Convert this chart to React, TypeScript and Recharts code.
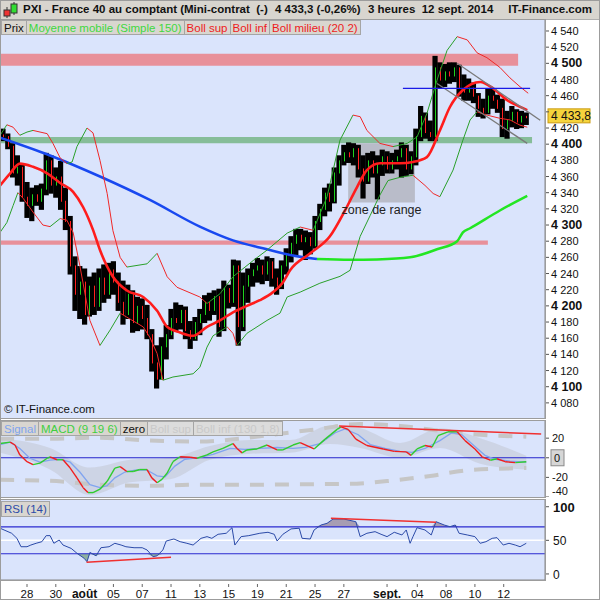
import { ComposedChart, Bar, Line, Area, XAxis, YAxis, CartesianGrid, ReferenceArea, ReferenceLine } from 'recharts'

const FONT = '"Liberation Sans", Arial, sans-serif'
const PLOT_BG = '#dae4fc'
const X_DOMAIN: [number, number] = [0.375, 113.9]

// 3-hour bars, one index per bar
const opens = [
  4406, 4412, 4410, 4398, 4365, 4372, 4335, 4325, 4338, 4330, 4345, 4380, 4350, 4360, 4330, 4305, 4250, 4215, 4230, 4190,
  4225, 4200, 4235, 4215, 4245, 4230, 4205, 4190, 4215, 4180, 4200, 4185, 4165, 4130, 4110, 4150, 4165, 4185, 4180, 4195,
  4170, 4160, 4180, 4190, 4205, 4195, 4212, 4175, 4222, 4205, 4250, 4175, 4225, 4238, 4245, 4250, 4240, 4255, 4235, 4225,
  4250, 4265, 4278, 4288, 4280, 4285, 4275, 4305, 4320, 4340, 4330, 4365, 4380, 4390, 4385, 4395, 4370, 4355, 4380, 4365,
  4375, 4385, 4370, 4380, 4385, 4395, 4370, 4385, 4410, 4435, 4415, 4410, 4495, 4480, 4490, 4485, 4495, 4470, 4465, 4470,
  4460, 4445, 4440, 4460, 4455, 4445, 4420, 4430, 4440, 4428, 4435,
]
const highs = [
  4416, 4418, 4412, 4400, 4385, 4375, 4352, 4345, 4348, 4350, 4388, 4385, 4370, 4378, 4345, 4310, 4260, 4248, 4245, 4235,
  4240, 4245, 4250, 4252, 4254, 4240, 4230, 4225, 4218, 4210, 4208, 4200, 4170, 4150, 4160, 4175, 4195, 4203, 4200, 4198,
  4180, 4185, 4195, 4212, 4215, 4218, 4220, 4230, 4225, 4256, 4255, 4240, 4245, 4252, 4258, 4256, 4260, 4258, 4245, 4255,
  4270, 4285, 4294, 4294, 4292, 4290, 4310, 4325, 4345, 4350, 4370, 4385, 4398, 4401, 4400, 4398, 4385, 4388, 4390, 4385,
  4392, 4390, 4388, 4392, 4401, 4398, 4390, 4418, 4446, 4438, 4428, 4508, 4500, 4498, 4500, 4500, 4497, 4485, 4480, 4475,
  4462, 4455, 4467, 4468, 4460, 4455, 4440, 4446, 4442, 4440, 4438,
]
const lows = [
  4404, 4405, 4395, 4360, 4350, 4330, 4310, 4306, 4325, 4320, 4338, 4340, 4335, 4320, 4295, 4240, 4195, 4185, 4178, 4188,
  4190, 4195, 4205, 4210, 4215, 4195, 4178, 4185, 4168, 4170, 4172, 4160, 4120, 4099, 4110, 4135, 4160, 4170, 4172, 4160,
  4148, 4158, 4165, 4180, 4183, 4190, 4163, 4170, 4198, 4200, 4152, 4170, 4205, 4225, 4230, 4228, 4232, 4225, 4215, 4222,
  4240, 4255, 4262, 4270, 4258, 4265, 4272, 4295, 4312, 4318, 4328, 4350, 4375, 4378, 4375, 4360, 4334, 4352, 4360, 4333,
  4362, 4365, 4365, 4370, 4360, 4362, 4364, 4375, 4405, 4408, 4405, 4405, 4470, 4472, 4476, 4478, 4460, 4455, 4455, 4452,
  4435, 4433, 4438, 4445, 4440, 4410, 4408, 4422, 4420, 4421, 4425,
]
const closes = [
  4412, 4410, 4398, 4365, 4372, 4335, 4325, 4338, 4330, 4345, 4380, 4350, 4360, 4330, 4305, 4250, 4215, 4230, 4190, 4225,
  4200, 4235, 4215, 4245, 4230, 4205, 4190, 4215, 4180, 4200, 4185, 4165, 4130, 4110, 4150, 4165, 4185, 4180, 4195, 4170,
  4160, 4180, 4190, 4205, 4195, 4212, 4175, 4222, 4205, 4250, 4175, 4225, 4238, 4245, 4250, 4240, 4255, 4235, 4225, 4250,
  4265, 4278, 4288, 4280, 4285, 4275, 4305, 4320, 4340, 4330, 4365, 4380, 4390, 4385, 4395, 4370, 4355, 4380, 4365, 4375,
  4385, 4370, 4380, 4385, 4395, 4370, 4385, 4410, 4435, 4415, 4410, 4495, 4480, 4490, 4485, 4495, 4470, 4465, 4470, 4460,
  4445, 4440, 4460, 4455, 4445, 4420, 4430, 4440, 4428, 4435, 4433.3,
]
const lastPrice = 4433.8

// overlays as [bar index, value]
const ma150Falling = [[0.4, 4408], [10.8, 4386], [21.2, 4360], [31.6, 4331], [42, 4298], [48.9, 4281], [56, 4270], [60.8, 4263], [66.4, 4258]]
const ma150Rising = [[66.4, 4258], [73.3, 4257], [78.9, 4257.5], [85.8, 4260], [91.4, 4270], [95.6, 4280], [96.8, 4291], [98.3, 4296], [104.5, 4318], [110.2, 4336]]
const bollMid = [
  [0.4, 4349], [2.5, 4364], [4.5, 4376], [7.25, 4372], [10.2, 4364], [12.9, 4352], [15.6, 4341], [17.7, 4322], [19.75, 4294],
  [21.2, 4269], [23.9, 4236], [26.8, 4219], [30.2, 4211], [33.1, 4194], [35.2, 4174], [37.9, 4167], [40.6, 4163], [43.5, 4174],
  [46.2, 4182], [48.9, 4192], [51.8, 4200], [54.5, 4207], [57.25, 4217], [59.3, 4229], [60.8, 4244], [65, 4265], [69.1, 4286],
  [72.25, 4318], [74.75, 4347], [76.8, 4368], [79.5, 4376.5], [83.7, 4376.5], [86.4, 4378], [89.3, 4384], [92, 4417], [94.1, 4446],
  [96.8, 4467], [100.4, 4477], [103.1, 4469], [106, 4454.5], [108.1, 4448], [110.2, 4442],
]
const bollSup = [
  [0.4, 4411], [1.8, 4424], [3.1, 4421], [4.5, 4411], [6, 4415], [7.25, 4417], [10.2, 4413], [11.4, 4401], [12.9, 4383],
  [14.3, 4376], [15.4, 4378], [16.4, 4397], [18.5, 4420], [19.75, 4414], [21.2, 4380], [22.7, 4339], [23.9, 4293], [25.4, 4260],
  [26.8, 4248], [31, 4252], [33.1, 4265], [35.2, 4236], [37.25, 4223], [42, 4211], [43.5, 4203], [46.2, 4215], [48.9, 4236],
  [53.1, 4256], [56, 4269], [60.2, 4290], [62.9, 4297.5], [65.6, 4293.5], [68.5, 4335], [71.2, 4405], [73.9, 4436], [75.4, 4434],
  [76.8, 4417], [79.5, 4401], [82.25, 4397], [85.2, 4401], [87.25, 4409], [89.3, 4438], [91.4, 4479], [93.5, 4516], [95.6, 4533],
  [97.7, 4529], [99.75, 4513], [101.8, 4507], [104.5, 4495], [106.6, 4482], [108.7, 4471], [110.4, 4463],
]
const bollInf = [
  [0.4, 4291], [1.8, 4303], [3.1, 4324], [4.1, 4340], [5.2, 4333], [7.25, 4316], [9.3, 4300], [10.8, 4298], [12.9, 4308],
  [14.3, 4306], [15.6, 4291], [17, 4250], [19.1, 4182], [21.2, 4151], [23.3, 4170], [25.4, 4191], [26.8, 4186], [30.2, 4174],
  [31.6, 4161], [33.1, 4141], [34.3, 4108], [36.4, 4112], [40.6, 4116], [42, 4124], [43.5, 4149], [44.75, 4163], [47.7, 4174],
  [48.9, 4166], [49.75, 4151], [51.8, 4166], [56, 4182], [58.7, 4191], [60.2, 4211], [62.9, 4217], [67, 4228], [71.2, 4236.5],
  [73.3, 4244], [75.4, 4286], [77.5, 4312], [79.5, 4337], [81.2, 4355], [83.7, 4359], [86.4, 4361.6], [88.9, 4349], [90.6, 4339],
  [92, 4335], [94.75, 4368], [96.8, 4405], [98.3, 4430], [99.75, 4440], [101.8, 4436], [104.5, 4432], [106.6, 4430],
  [108.7, 4423.5], [110.2, 4421],
]
const channelTop = [[95.6, 4500], [112.9, 4429.7]]
const channelBottom = [[91.4, 4475], [110.2, 4401]]
const resistanceLine = [84.3, 110.8, 4469]

const macd = [
  [0.4, 14.5], [2.5, 16], [3.5, 13], [4.5, 3], [6, -4], [7.25, -7], [8.7, -5.5], [10.2, -0.5], [10.8, 1], [12.25, -2], [13.5, -2],
  [15, -10.5], [16.4, -20.5], [17.7, -30.5], [18.7, -35.5], [19.75, -35.5], [21.2, -32], [22.7, -24], [24.3, -10.5], [25.4, -9],
  [26.8, -14], [28.1, -14], [29.5, -12], [31, -12], [32, -20.5], [33.1, -25.5], [34.1, -22], [35.2, -15.5], [36.4, -4], [37.9, 1],
  [40, 0.5], [41.4, -0.5], [43.5, 3], [44.75, 6], [46.8, 9.5], [48.9, 14.5], [49.75, 9.5], [50.8, 5], [51.8, 8], [53.9, 9], [56, 13],
  [58.1, 8], [59.3, 8], [61.4, 13], [62.9, 15.5], [65.8, 9], [68.1, 19], [70.6, 29], [71.4, 31.5], [72.9, 29], [74.5, 19],
  [76.8, 12.5], [80.2, 9], [82.5, 6.5], [85, 6], [86, 2.5], [87.25, 9], [88.9, 12.5], [90.4, 11], [91.6, 22.5], [93.7, 26.5],
  [95.6, 26.5], [97.25, 17.5], [99.3, 9], [100.8, 1], [102.5, -2.5], [103.9, -1], [105.6, -4], [107.7, -5], [110, -4],
]
const signal = [
  [0.4, 13.5], [2.5, 16], [4.5, 9.5], [6.6, -0.5], [8.7, -4.5], [10.8, -2.5], [12.9, -1.5], [15, -4.5], [17, -14.5], [19.1, -27.5],
  [21.2, -30.5], [22.7, -28.5], [24.3, -20.5], [26.4, -14.5], [28.5, -12.5], [31, -12.5], [33.1, -18.5], [34.75, -19.5],
  [36.8, -8.5], [38.9, -1.5], [42, 0.5], [44.75, 3.5], [48.3, 9.5], [51.4, 8.5], [54.5, 9.5], [58.1, 10.5], [61.4, 9.5], [64, 10.5],
  [67, 14.5], [70.2, 25.5], [72.25, 29.5], [75, 23.5], [77.5, 13.5], [80.6, 9.5], [83.7, 6.5], [86.2, 5.5], [88.9, 9.5], [92, 17.5],
  [94.5, 25.5], [96.6, 23.5], [99.3, 11.5], [101.4, 2.5], [103.5, -1.5], [106.6, -3.5], [110, -4.5],
]
const macdBollSup = [[0.4, 19.5], [10.8, 19.5], [21.2, 20.5], [31.6, 17.5], [42, 16.5], [50.4, 19.5], [58.7, 24.5], [67, 29.5], [75.4, 34.5], [83.7, 32.5], [92, 27.5], [100.4, 23.5], [110, 21.5]]
const macdBollInf = [[0.4, -22.5], [10.8, -23.5], [21.2, -27.5], [31.6, -28.5], [42, -27.5], [52.5, -27.5], [62.9, -27], [73.3, -26.5], [81.6, -23.5], [90, -18.5], [98.3, -12.5], [110, -10.5]]
const macdShadeLo = [5, -12, -38, -25, -22, -2, 4, 5, 14, 10, 0, 10, -6, -12]
const macdShadeHi = [20, 10, -10, -2, 0, 12, 18, 18, 33, 30, 15, 30, 20, 2]
const macdShadeX = [0.4, 10.8, 19.1, 27.5, 35.8, 44.1, 52.5, 60.8, 69.1, 75.4, 83.7, 92, 100.4, 110]
const macdTrend = [[71, 32.5], [113.1, 24.2]]

const rsi = [
  [0.4, 68], [2.8, 60.5], [3.9, 53], [4.75, 40.5], [6, 40.5], [6.8, 43], [7.9, 45.6], [9.1, 48], [10, 57], [10.8, 57], [11.6, 45.6],
  [12.7, 50.5], [13.5, 43], [15.2, 38], [16.4, 30.8], [17.9, 23.3], [18.5, 18.3], [19.1, 32], [20.4, 27], [21.4, 39], [23.1, 40.5],
  [24.3, 45.6], [25.6, 43], [26.6, 40.5], [28.3, 39], [30, 39], [31, 35.7], [32.25, 25.7], [33.1, 27], [34.3, 35.7], [35, 49],
  [36.6, 52], [37.9, 48], [39.3, 45.6], [40.6, 43], [42.25, 53], [43.5, 55.5], [44.5, 53], [45.8, 59], [47.5, 60.5], [48.7, 68.8],
  [49.3, 43], [50.6, 55.5], [52.2, 57], [54.5, 60.5], [56.2, 62], [57.5, 59], [58.1, 49], [59.3, 59], [61, 67], [62.7, 68],
  [63.3, 53], [65, 52], [65.8, 65.4], [67.25, 72.8], [68.5, 75.3], [69.75, 81.7], [72, 81.7], [74.5, 77.7], [75.4, 55.5],
  [76.8, 60.5], [78.5, 62.9], [79.75, 59], [81, 55.5], [82.5, 62], [84.1, 58], [85, 65.4], [85.8, 45.6], [86.4, 55.5],
  [87.25, 68.8], [88.9, 65.4], [90.2, 58], [91.2, 77.7], [92.9, 72.8], [94.1, 70.3], [95.2, 72.8], [96, 60.5], [97.7, 58],
  [99.3, 55.5], [100.4, 45.6], [101.6, 48], [102.9, 53], [103.9, 54], [105.2, 43], [106.4, 45.6], [107.7, 43], [108.7, 40.5],
  [110, 45.6],
]
const rsiTrendLow = [[18.4, 17.4], [36, 24.8]]
const rsiTrendHigh = [[69.3, 82.7], [91.2, 76.8]]

const priceTicks = [4080, 4100, 4120, 4140, 4160, 4180, 4200, 4220, 4240, 4260, 4280, 4300, 4320, 4340, 4360, 4380, 4400, 4420, 4440, 4460, 4480, 4500, 4520, 4540]
const macdTicks = [20, 0, -20, -40]
const rsiTicks = [0, 50, 100]
const dayTicks = [6, 12, 18, 24, 30, 36, 42, 48, 54, 60, 66, 72, 81, 87.3, 93.3, 99.3, 105.3]
const dayLabels = ['28', '30', 'août', '05', '07', '11', '13', '15', '19', '21', '25', '27', 'sept.', '04', '08', '10', '12']

const candles = closes.map((c, i) => ({ x: i, range: [lows[i], highs[i]], open: opens[i], close: c, high: highs[i], low: lows[i] }))
const pts = (arr: number[][]) => arr.map(([x, v]) => ({ x, v }))
const shade = macdShadeX.map((x, i) => ({ x, band: [macdShadeLo[i], macdShadeHi[i]] }))
const rsiHigh = rsi.map(([x, v]) => ({ x, band: [70, Math.max(v, 70)] }))
const rsiLow = rsi.map(([x, v]) => ({ x, band: [Math.min(v, 30), 30] }))

const fmtPrice = (v: number) => `${Math.floor(v / 1000)} ${String(Math.round(v % 1000)).padStart(3, '0')}`

function Candle(props: any) {
  const { x, y, width, height, payload } = props
  if (x == null || y == null || !payload) return null
  const top = Math.min(y, y + height)
  const h = Math.max(Math.abs(height), 1)
  const k = h / (payload.high - payload.low || 1)
  const yo = top + (payload.high - payload.open) * k
  const yc = top + (payload.high - payload.close) * k
  const mid = x + width / 2
  const cx = Math.round(mid) + 0.5
  return (
    <g>
      <rect x={mid - 2.6} y={top - 1} width={5.2} height={h + 2} fill="#000" />
      <line x1={cx} x2={cx} y1={Math.min(yo, yc)} y2={Math.max(yo, yc) + 1} stroke={payload.close >= payload.open ? '#1fd21f' : '#ff2020'} strokeWidth={1} />
    </g>
  )
}

// colour each piece by direction, like the source chart does
function segments(id: string, arr: number[][], up: string, down: string, width: number) {
  return arr.slice(1).map((p, k) => (
    <ReferenceLine
      key={`${id}${k}`}
      segment={[{ x: arr[k][0], y: arr[k][1] }, { x: p[0], y: p[1] }]}
      stroke={p[1] >= arr[k][1] ? up : down}
      strokeWidth={width}
      ifOverflow="hidden"
    />
  ))
}

function PriceTick(props: any) {
  const { x, y, payload } = props
  const major = payload.value % 100 === 0
  // the last-price box sits over the nearest label
  if (Math.abs(payload.value - lastPrice) < 10) return <line x1={x} x2={x + 4} y1={y} y2={y} stroke="#555" />
  return (
    <g>
      <line x1={x} x2={x + 4} y1={y} y2={y} stroke="#555" />
      <text x={x + 6} y={y} dy={4} fontFamily={FONT} fontSize={major ? 12.5 : 11} fontWeight={major ? 'bold' : 'normal'} fill="#111">
        {fmtPrice(payload.value)}
      </text>
    </g>
  )
}

function MacdTick(props: any) {
  const { x, y, payload } = props
  const ty = Math.min(y, 70)
  return (
    <g>
      <line x1={x} x2={x + 4} y1={y} y2={y} stroke="#555" />
      {payload.value === 0 && <rect x={x + 6} y={ty - 8} width={13} height={16} fill="#d6d6d6" stroke="#8a8a8a" />}
      <text x={payload.value === 0 ? x + 9 : x + 7} y={ty} dy={4} fontFamily={FONT} fontSize={11} fill="#111">
        {payload.value}
      </text>
    </g>
  )
}

function RsiTick(props: any) {
  const { x, y, payload } = props
  return (
    <g>
      <line x1={x} x2={x + 4} y1={y} y2={y} stroke="#555" />
      <text x={x + 8} y={y} dy={5} fontFamily={FONT} fontSize={payload.value === 100 ? 13 : 12} fontWeight={payload.value === 100 ? 'bold' : 'normal'} fill="#111">
        {payload.value}
      </text>
    </g>
  )
}

function DayTick(props: any) {
  const { x, y, payload } = props
  const label = dayLabels[dayTicks.indexOf(payload.value)] ?? ''
  const month = label.length > 2
  return (
    <g>
      <line x1={x} x2={x} y1={y - 4} y2={y - 1} stroke="#666" />
      <text x={x} y={y + 10} textAnchor="middle" fontFamily={FONT} fontSize={month ? 12 : 11.5} fontWeight={month ? 'bold' : 'normal'} fill="#111">
        {label}
      </text>
    </g>
  )
}

function PriceBox(props: any) {
  const { viewBox } = props
  if (!viewBox) return null
  const x = viewBox.x + viewBox.width + 3
  return (
    <g>
      <rect x={x} y={viewBox.y - 8} width={42} height={14} fill="#f6d43c" stroke="#c99a10" />
      <text x={x + 3} y={viewBox.y + 3.5} fontFamily={FONT} fontSize={12} fill="#111">
        {lastPrice.toFixed(1).replace('.', ',').replace(/^(\d)(\d{3})/, '$1 $2')}
      </text>
    </g>
  )
}

const boxStyle = (color: string) => ({
  display: 'inline-block',
  height: 15,
  lineHeight: '15px',
  padding: '0 2px',
  background: '#d9d6d0',
  border: '1px solid #a5a5a5',
  marginRight: -1,
  color,
  fontSize: 11.5,
  fontFamily: FONT,
  boxSizing: 'border-box' as const,
})

const panelBorder = (top: number, height: number) => (
  <div style={{ position: 'absolute', left: 0, top, width: 546, height, border: '1px solid #9c9c9c', boxSizing: 'border-box', pointerEvents: 'none' }} />
)

export default function App() {
  return (
    <div style={{ position: 'absolute', left: 0, top: 0, width: 600, height: 600, background: '#fff', overflow: 'hidden', fontFamily: FONT }}>
      {/* title bar */}
      <div style={{ position: 'absolute', left: 0, top: 0, width: 600, height: 20, background: '#d8d5cf', borderBottom: '1px solid #b0b0b0', boxSizing: 'border-box' }}>
        <svg width={18} height={18} style={{ position: 'absolute', left: 2, top: 1 }}>
          <line x1={5} x2={5} y1={6} y2={17} stroke="#333" />
          <rect x={2} y={9} width={6} height={6} fill="#e33" stroke="#333" />
          <line x1={12} x2={12} y1={1} y2={14} stroke="#333" />
          <rect x={9} y={3} width={6} height={9} fill="#3d3" stroke="#333" />
        </svg>
        <span style={{ position: 'absolute', left: 23, top: 3, fontSize: 11.5, fontWeight: 'bold', whiteSpace: 'pre', color: '#111' }}>
          PXI - France 40 au comptant (Mini-contrat  (-)
        </span>
        <span style={{ position: 'absolute', left: 275, top: 3, fontSize: 11.5, fontWeight: 'bold', whiteSpace: 'pre', color: '#111' }}>4 433,3 (-0,26%)</span>
        <span style={{ position: 'absolute', left: 368, top: 3, fontSize: 11.5, fontWeight: 'bold', whiteSpace: 'pre', color: '#111' }}>3 heures  12 sept. 2014</span>
        <span style={{ position: 'absolute', right: 8, top: 3, fontSize: 11.5, fontWeight: 'bold', whiteSpace: 'pre', color: '#111' }}>IT-Finance.com</span>
      </div>

      {/* price panel */}
      <div style={{ position: 'absolute', left: 0, top: 20 }}>
        <ComposedChart width={600} height={398} data={candles} margin={{ top: 0, right: 0, bottom: 0, left: 0 }}>
          <CartesianGrid fill={PLOT_BG} stroke="none" />
          <XAxis dataKey="x" type="number" domain={X_DOMAIN} allowDataOverflow hide />
          <YAxis
            orientation="right"
            type="number"
            width={55}
            domain={[4061.3, 4553.6]}
            allowDataOverflow
            ticks={priceTicks}
            interval={0}
            tick={<PriceTick />}
            tickLine={false}
            axisLine={{ stroke: '#888' }}
            tickSize={0}
            tickMargin={0}
          />
          <ReferenceArea y1={4497} y2={4512} x2={108.3} fill="#e8909a" fillOpacity={1} stroke="none" ifOverflow="hidden" />
          <ReferenceArea y1={4401} y2={4409} x2={111.2} fill="#86bd99" fillOpacity={1} stroke="none" ifOverflow="hidden" />
          <ReferenceArea y1={4275.7} y2={4281} x2={102} fill="#e8909a" fillOpacity={1} stroke="none" ifOverflow="hidden" />
          <ReferenceArea
            x1={72.9}
            x2={86.8}
            y1={4328}
            y2={4401}
            fill="#b9bcc9"
            fillOpacity={1}
            stroke="none"
            label={{ value: 'zone de range', position: 'bottom', offset: 3, fill: '#222', fontSize: 12.5, fontFamily: FONT }}
          />
          <Bar dataKey="range" barSize={4} shape={<Candle />} isAnimationActive={false} />
          <Line data={pts(ma150Falling)} dataKey="v" type="monotone" stroke="#1848f0" strokeWidth={2.5} dot={false} isAnimationActive={false} />
          <Line data={pts(ma150Rising)} dataKey="v" type="monotone" stroke="#22e622" strokeWidth={2.5} dot={false} isAnimationActive={false} />
          {segments('sup', bollSup, '#2aa02a', '#f02828', 1)}
          {segments('inf', bollInf, '#2aa02a', '#f02828', 1)}
          <Line data={pts(bollMid)} dataKey="v" type="monotone" stroke="#ff1c1c" strokeWidth={2.6} dot={false} isAnimationActive={false} />
          <ReferenceLine segment={[{ x: channelTop[0][0], y: channelTop[0][1] }, { x: channelTop[1][0], y: channelTop[1][1] }]} stroke="#7a7a7a" strokeWidth={1.3} />
          <ReferenceLine segment={[{ x: channelBottom[0][0], y: channelBottom[0][1] }, { x: channelBottom[1][0], y: channelBottom[1][1] }]} stroke="#7a7a7a" strokeWidth={1.3} />
          <ReferenceLine segment={[{ x: resistanceLine[0], y: resistanceLine[2] }, { x: resistanceLine[1], y: resistanceLine[2] }]} stroke="#1a1ae6" strokeWidth={1.3} />
          <ReferenceLine y={lastPrice} stroke="none" label={<PriceBox />} />
        </ComposedChart>
      </div>
      <div style={{ position: 'absolute', left: 1, top: 20, display: 'flex' }}>
        <span style={boxStyle('#111')}>Prix</span>
        <span style={boxStyle('#3fd83f')}>Moyenne mobile (Simple 150)</span>
        <span style={boxStyle('#ee1c1c')}>Boll sup</span>
        <span style={boxStyle('#ee1c1c')}>Boll inf</span>
        <span style={boxStyle('#ee1c1c')}>Boll milieu (20 2)</span>
      </div>
      <div style={{ position: 'absolute', left: 4, top: 403, fontSize: 11.5, color: '#111' }}>© IT-Finance.com</div>
      {panelBorder(19, 400)}

      {/* MACD panel */}
      <div style={{ position: 'absolute', left: 0, top: 421 }}>
        <ComposedChart width={600} height={76} data={pts(signal)} margin={{ top: 0, right: 0, bottom: 0, left: 0 }}>
          <CartesianGrid fill={PLOT_BG} stroke="none" />
          <XAxis dataKey="x" type="number" domain={X_DOMAIN} allowDataOverflow hide />
          <YAxis
            orientation="right"
            type="number"
            width={55}
            domain={[-40, 37.5]}
            allowDataOverflow
            ticks={macdTicks}
            interval={0}
            tick={<MacdTick />}
            tickLine={false}
            axisLine={{ stroke: '#888' }}
            tickSize={0}
            tickMargin={0}
          />
          <Area data={shade} dataKey="band" type="monotone" stroke="none" fill="#c3c6d2" fillOpacity={0.55} isAnimationActive={false} />
          <Line data={pts(macdBollSup)} dataKey="v" type="monotone" stroke="#c6c6c6" strokeWidth={4} strokeDasharray="14 11" dot={false} isAnimationActive={false} />
          <Line data={pts(macdBollInf)} dataKey="v" type="monotone" stroke="#c6c6c6" strokeWidth={4} strokeDasharray="14 11" dot={false} isAnimationActive={false} />
          <ReferenceLine y={0} stroke="#2424cc" strokeWidth={1.2} />
          <Line dataKey="v" type="linear" stroke="#80a4f0" strokeWidth={1.3} dot={false} isAnimationActive={false} />
          {segments('macd', macd, '#2fcc2f', '#f01e1e', 1.4)}
          <ReferenceLine segment={[{ x: macdTrend[0][0], y: macdTrend[0][1] }, { x: macdTrend[1][0], y: macdTrend[1][1] }]} stroke="#f03030" strokeWidth={1.5} ifOverflow="visible" />
        </ComposedChart>
      </div>
      <div style={{ position: 'absolute', left: 1, top: 421, display: 'flex' }}>
        <span style={boxStyle('#7fa4ee')}>Signal</span>
        <span style={boxStyle('#3fcf3f')}>MACD (9 19 6)</span>
        <span style={boxStyle('#111')}>zero</span>
        <span style={{ ...boxStyle('#c9c9c9'), background: '#dcdcdc' }}>Boll sup</span>
        <span style={{ ...boxStyle('#c9c9c9'), background: '#dcdcdc' }}>Boll inf (130 1,8)</span>
      </div>
      {panelBorder(420, 78)}

      {/* RSI panel */}
      <div style={{ position: 'absolute', left: 0, top: 500 }}>
        <ComposedChart width={600} height={100} data={pts(rsi)} margin={{ top: 0, right: 0, bottom: 0, left: 0 }}>
          <CartesianGrid fill={PLOT_BG} stroke="none" />
          <XAxis
            dataKey="x"
            type="number"
            domain={X_DOMAIN}
            allowDataOverflow
            ticks={dayTicks}
            interval={0}
            height={20}
            tick={<DayTick />}
            tickLine={false}
            axisLine={{ stroke: '#888' }}
          />
          <YAxis
            orientation="right"
            type="number"
            width={55}
            domain={[-9, 110]}
            allowDataOverflow
            ticks={rsiTicks}
            interval={0}
            tick={<RsiTick />}
            tickLine={false}
            axisLine={{ stroke: '#888' }}
            tickSize={0}
            tickMargin={0}
          />
          <ReferenceLine y={50} stroke="#ffffff" strokeWidth={1.5} />
          <ReferenceLine y={70} stroke="#2a2ad0" strokeWidth={1.1} />
          <ReferenceLine y={30} stroke="#2a2ad0" strokeWidth={1.1} />
          <Area data={rsiHigh} dataKey="band" type="linear" stroke="none" fill="#9d90a6" fillOpacity={0.85} isAnimationActive={false} />
          <Area data={rsiLow} dataKey="band" type="linear" stroke="none" fill="#7fa68e" fillOpacity={0.85} isAnimationActive={false} />
          <Line dataKey="v" type="linear" stroke="#2b4aa8" strokeWidth={1} dot={false} isAnimationActive={false} />
          <ReferenceLine segment={[{ x: rsiTrendLow[0][0], y: rsiTrendLow[0][1] }, { x: rsiTrendLow[1][0], y: rsiTrendLow[1][1] }]} stroke="#f03030" strokeWidth={1.5} />
          <ReferenceLine segment={[{ x: rsiTrendHigh[0][0], y: rsiTrendHigh[0][1] }, { x: rsiTrendHigh[1][0], y: rsiTrendHigh[1][1] }]} stroke="#f03030" strokeWidth={1.5} />
        </ComposedChart>
      </div>
      <div style={{ position: 'absolute', left: 1, top: 501, display: 'flex' }}>
        <span style={{ ...boxStyle('#2b4aa8'), height: 16 }}>RSI (14)</span>
      </div>
      {panelBorder(499, 82)}
      <div style={{ position: 'absolute', left: 0, top: 0, width: 600, height: 600, border: '1px solid #9c9c9c', boxSizing: 'border-box', pointerEvents: 'none' }} />
    </div>
  )
}
